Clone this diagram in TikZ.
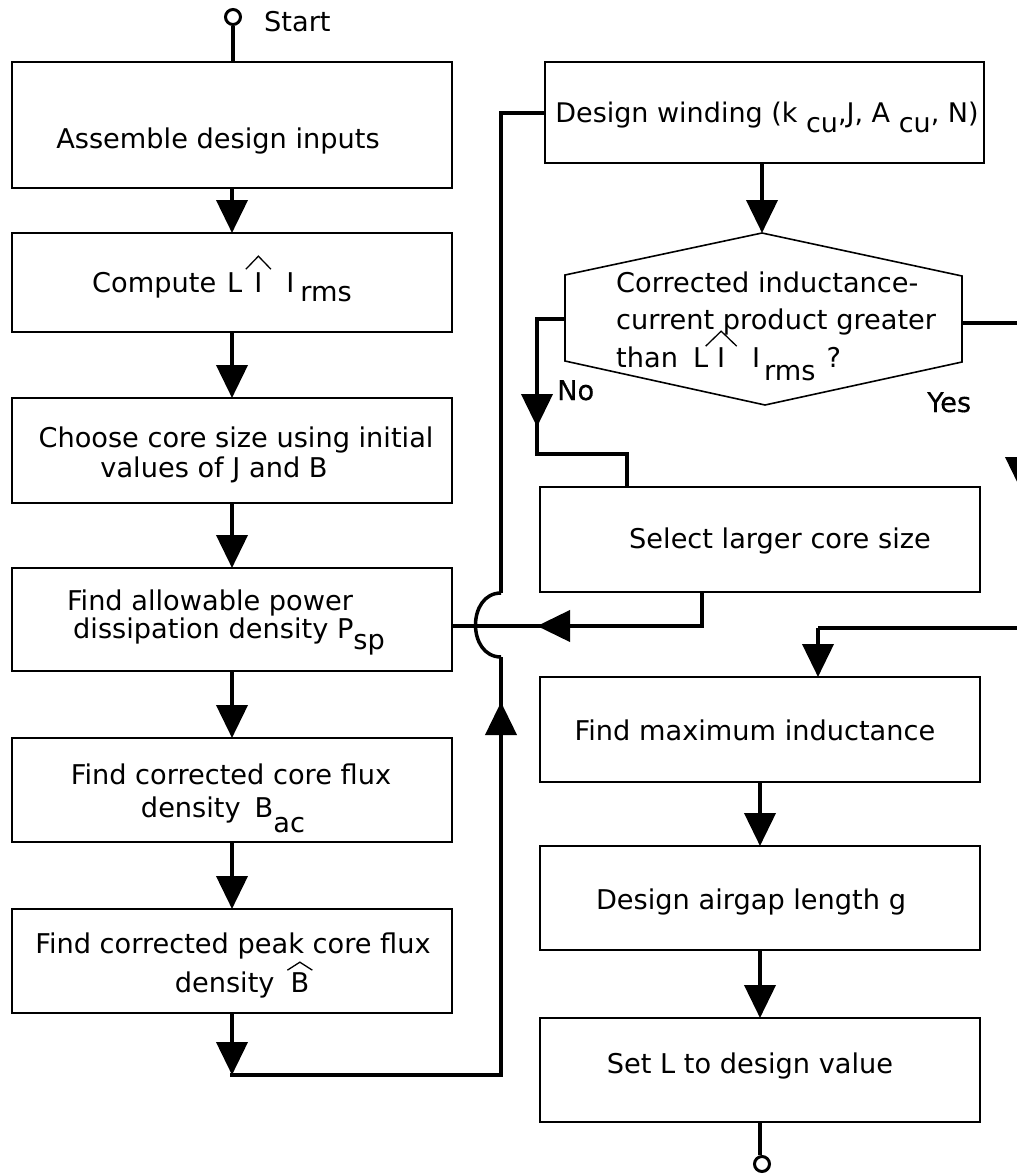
\documentclass[tikz,border=0pt]{standalone}
\usepackage{fontspec}
\setmainfont{DejaVu Sans}
\newfontfamily\medfont{DejaVu Sans}[FakeBold=0.5]
\usetikzlibrary{arrows.meta}
\newcommand\lowsub[2][11]{\raisebox{-#1pt}{#2}}
% #1 half width, #2 height, #3 gap above letter, #4 letter
\newcommand\hatover[4]{\leavevmode\setbox0\hbox{#4}\rlap{\hbox to \wd0{\hss\raisebox{\dimexpr\ht0+#3pt\relax}[0pt][0pt]{\tikz[baseline=0pt]\draw[line width=1.3pt] (-#1pt,0pt)--(0pt,#2pt)--(#1pt,0pt);}\hss}}\box0}
\begin{document}
\begin{tikzpicture}[x=1pt,y=-1pt,
  box/.style={draw, line width=1.6pt, inner sep=0pt, outer sep=0pt, minimum width=440pt},
  txt/.style={inner sep=0pt, anchor=base, font=\fontsize{27.2}{30}\selectfont},
  txtw/.style={txt, anchor=base west},
  conn/.style={line width=4pt},
  flow/.style={line width=4pt, -{Triangle[width=31pt,length=33pt]}},
  term/.style={circle, draw, line width=3pt, minimum size=15pt, inner sep=0pt}]
\useasboundingbox (0,0) rectangle (1017,1175);
\fill[white] (0,0) rectangle (1017,1175);
\begin{scope}
\clip (0,0) rectangle (1017,1175);
% ---------------- left column ----------------
\node[term] (st) at (233,17) {};
\node[txtw] (sttxt) at (264,31) {Start};
\node[box, minimum height=126pt] (b1) at (232,125) {};
\node[box, minimum height=99pt]  (b2) at (232,282.5) {};
\node[box, minimum height=105pt] (b3) at (232,450.5) {};
\node[box, minimum height=103pt] (b4) at (232,619.5) {};
\node[box, minimum height=104pt] (b5) at (232,790) {};
\node[box, minimum height=104pt] (b6) at (232,961) {};
\node[txt] (t1) at (218,148) {Assemble design inputs};
\node[txtw] (t2) at (92,292)
  {Compute\hspace{11pt}L\hspace{12pt}\hatover{12.5}{13}{3}{I}\hspace{24pt}I\hspace{6pt}\lowsub[9]{rms}};
\node[txt] (t3a) at (236,447) {Choose core size using initial};
\node[txt] (t3b) at (214,477) {values of J and B};
\node[txt] (t4a) at (210,610) {Find allowable power};
\node[txt] (t4b) at (229,638) {dissipation density P\lowsub[11]{sp}};
\node[txt] (t5a) at (231,784) {Find corrected core flux};
\node[txt] (t5b) at (223,817) {density\hspace{14pt}B\lowsub[15]{ac}};
\node[txt] (t6a) at (233,953) {Find corrected peak core flux};
\node[txt] (t6b) at (242,992) {density\hspace{16pt}\hatover{12.5}{8}{2}{B}};
\draw[conn] (st.south) -- (st.south |- b1.north);
\draw[flow] (b1.south) -- (b2.north);
\draw[flow] (b2.south) -- (b3.north);
\draw[flow] (b3.south) -- (b4.north);
\draw[flow] (b4.south) -- (b5.north);
\draw[flow] (b5.south) -- (b6.north);
% ---------------- feedback line with jumper ----------------
\coordinate (fA) at (232,1075);
\coordinate (fB) at (501,1075);
\coordinate (hb) at (501,657);
\coordinate (ht) at (501,593);
\coordinate (upT) at (501,702);
\draw[flow] (b6.south) -- (fA);
\draw[conn] ([xshift=-2pt]fA) -- (fB) -- (hb);
\draw[line width=3.5pt] (hb) .. controls (467,657) and (467,593) .. (ht);
\node[box, minimum width=439pt, minimum height=101pt] (d) at (764.5,112.5) {};
\draw[conn] (ht) -- (d.west -| ht) -- (d.west);
\draw[flow] ([yshift=-40pt]upT) -- (upT);
% ---------------- right column ----------------
\node[txt, font=\fontsize{27}{30}\selectfont] (td) at (767,122) {Design winding (k \lowsub[10]{cu},J, A \lowsub[10]{cu}, N)};
\coordinate (hT) at (762,233);
\coordinate (hUR) at (962,276);
\coordinate (hLR) at (962,362);
\coordinate (hB) at (765,405);
\coordinate (hLL) at (565,361);
\coordinate (hUL) at (565,275);
\draw[line width=1.6pt] (hT) -- (hUR) -- (hLR) -- (hB) -- (hLL) -- (hUL) -- cycle;
\draw[flow] (hT |- d.south) -- (hT);
\node[txtw] (h1) at (616,292) {Corrected inductance-};
\node[txtw] (h2) at (616,329) {current product greater};
\node[txtw] (h3) at (616,367)
  {than\hspace{15pt}L\hspace{9pt}\hatover{15.5}{15}{1}{I}\hspace{27pt}I\hspace{4pt}\lowsub[13]{rms}\hspace{11pt}?};
\node[txtw, font=\fontsize{27.2}{30}\medfont] (no) at (557,400) {No};
\node[txtw, font=\fontsize{27.2}{30}\medfont] (yes) at (927,412) {Yes};
\node[box, minimum height=105pt] (s) at (760,539.5) {};
\node[box, minimum height=105pt] (m) at (760,729.5) {};
\node[box, minimum height=104pt] (g) at (760,898) {};
\node[box, minimum height=104pt] (l) at (760,1070) {};
\node[term] (ed) at (762,1164) {};
\node[txt] (ts) at (780,548) {Select larger core size};
\node[txt] (tm) at (755,740) {Find maximum inductance};
\node[txt] (tg) at (751,909) {Design airgap length g};
\node[txt] (tl) at (750,1073) {Set L to design value};
% No branch
\coordinate (hW) at (565,319);
\coordinate (nA) at (537,319);
\coordinate (nB) at (537,454);
\coordinate (nC) at (627,454);
\coordinate (nT) at (537,427);
\draw[conn] (hW) -- (nA) -- (nB) -- (nC) -- (nC |- s.north);
\draw[flow] ([yshift=40pt]nT) -- (nT);
% Select -> back to left column
\coordinate (sC) at (702,626);
\coordinate (lA) at (537,626);
\draw[conn] (sC |- s.south) -- (sC) -- (b4.east |- sC);
\draw[flow] ([xshift=40pt]lA) -- (lA);
% Yes branch
\coordinate (hE) at (962,323);
\coordinate (yA) at (1021,323);
\coordinate (yB) at (1021,628);
\coordinate (yC) at (818,628);
\coordinate (yT) at (1021,490);
\draw[conn] (hE) -- (yA) -- (yB) -- (yC);
\draw[flow] ([yshift=40pt]yT) -- (yT);
\draw[flow] (yC) -- (yC |- m.north);
\draw[flow] (m.south) -- (g.north);
\draw[flow] (g.south) -- (l.north);
\draw[conn] (l.south) -- (l.south |- ed.north);
\end{scope}
\end{tikzpicture}
\end{document}
